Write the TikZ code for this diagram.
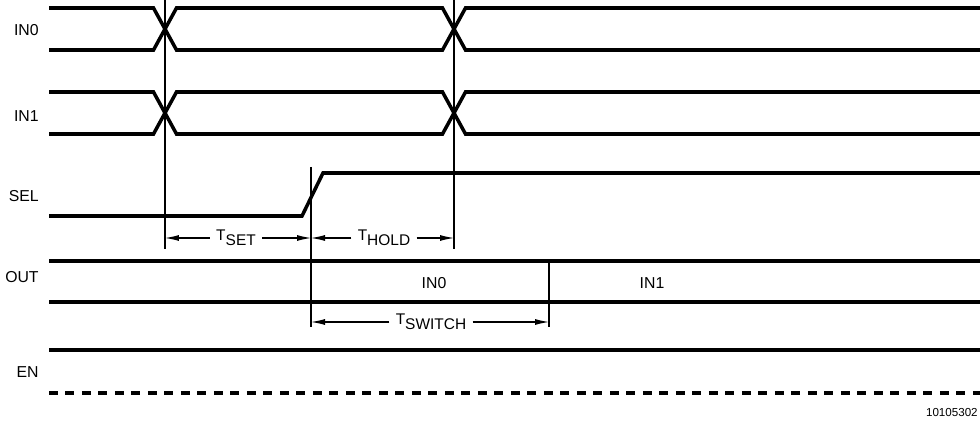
\documentclass[tikz,border=0pt]{standalone}
\usepackage{fontspec}
\setmainfont{Liberation Sans}
\usetikzlibrary{arrows.meta}
\tikzstyle{wave}  = [line width=2pt]
\tikzstyle{guide} = [line width=0.6pt]
\tikzstyle{dim}   = [line width=0.6pt,-{Latex[length=0.28cm,width=0.12cm]}]
\tikzstyle{sig}   = [anchor=east, inner sep=0pt, font=\fontsize{9}{10}\selectfont]
\tikzstyle{lbl}   = [inner sep=0pt, font=\fontsize{9}{10}\selectfont]
\tikzstyle{tlbl}  = [inner xsep=0.12cm, inner ysep=0pt, font=\fontsize{8.8}{10}\selectfont]
\newcommand{\tdim}[2]{#1\raisebox{-0.55ex}{#2}}

\begin{document}
\begin{tikzpicture}[x=0.02cm,y=-0.02cm]
		\useasboundingbox (0,0) rectangle (980,425);

		% signal names
		\node[sig] (in0) at (39,30) {IN0};
		\node[sig] (in1) at (39,116) {IN1};
		\node[sig] (sel) at (39,196) {SEL};
		\node[sig] (out) at (39,277) {OUT};
		\node[sig] (en) at (39,372) {EN};

		% IN0
		\draw[wave] (49,8) -- (153.5,8) -- (176.5,50) -- (442.5,50) -- (465.5,8) -- (980,8);
		\draw[wave] (49,50) -- (153.5,50) -- (176.5,8) -- (442.5,8) -- (465.5,50) -- (980,50);

		% IN1
		\draw[wave] (49,92) -- (153.5,92) -- (176.5,134) -- (442.5,134) -- (465.5,92) -- (980,92);
		\draw[wave] (49,134) -- (153.5,134) -- (176.5,92) -- (442.5,92) -- (465.5,134) -- (980,134);

		% SEL
		\draw[wave] (49,216) -- (302,216) -- (323,173) -- (980,173);

		% OUT
		\draw[wave] (49,261) -- (980,261);
		\draw[wave] (49,302) -- (980,302);
		\node[lbl] (outa) at (434,283) {IN0};
		\node[lbl] (outb) at (652,283) {IN1};

		% EN
		\draw[wave] (49,350) -- (980,350);
		\draw[wave, dash pattern=on 0.18cm off 0.15cm] (49,393) -- (980,393);

		% guides
		\draw[guide] (165,0) -- (165,249);
		\draw[guide] (454,0) -- (454,249);
		\draw[guide] (311,167) -- (311,327);
		\draw[guide] (549,261) -- (549,327);

		% timings
		\node[tlbl] (tset) at (236,238) {\tdim{T}{SET}};
		\coordinate (setl) at (165,238);
		\coordinate (setr) at (311,238);
		\draw[dim] (tset) -- (setl);
		\draw[dim] (tset) -- (setr);

		\node[tlbl] (thold) at (384,238) {\tdim{T}{HOLD}};
		\coordinate (holdl) at (311,238);
		\coordinate (holdr) at (454,238);
		\draw[dim] (thold) -- (holdl);
		\draw[dim] (thold) -- (holdr);

		\node[tlbl] (tswitch) at (431,322) {\tdim{T}{SWITCH}};
		\coordinate (swl) at (311,322);
		\coordinate (swr) at (549,322);
		\draw[dim] (tswitch) -- (swl);
		\draw[dim] (tswitch) -- (swr);

		\node[anchor=east, inner sep=0pt, font=\fontsize{6.6}{7}\selectfont] (code) at (978,413) {10105302};
	\end{tikzpicture}
\end{document}
